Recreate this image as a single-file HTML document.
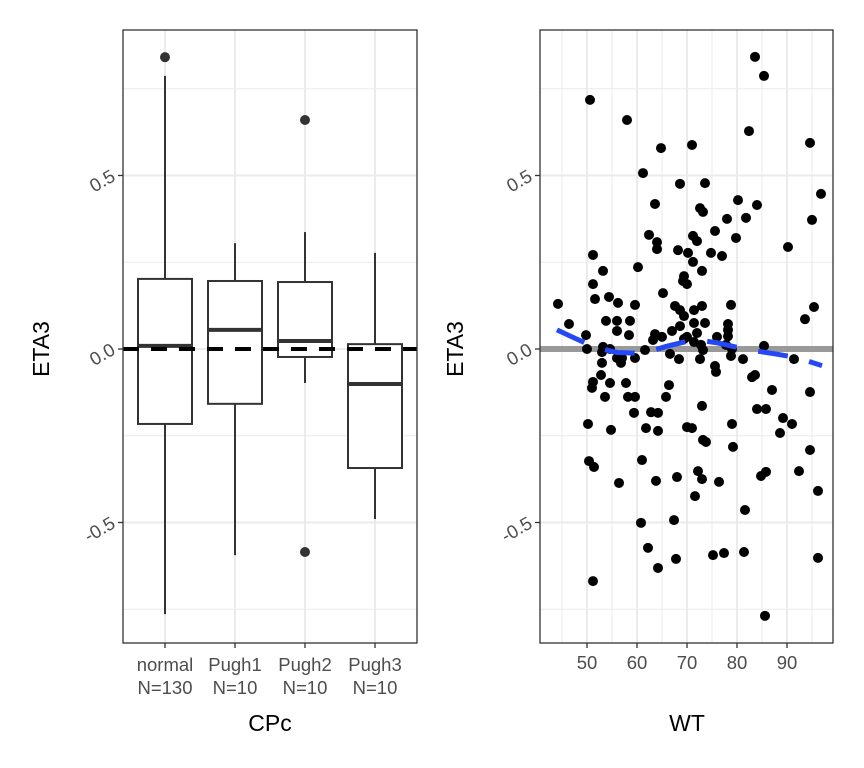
<!DOCTYPE html>
<html><head><meta charset="utf-8">
<style>
html,body{margin:0;padding:0;background:#fff;}
svg{display:block;font-family:"Liberation Sans",sans-serif;}
</style></head>
<body>
<svg id="chart" width="864" height="768" viewBox="0 0 864 768"></svg>
<script>
// ---- Left panel data (box plot) ----
const categories = ["normal","Pugh1","Pugh2","Pugh3"];
const catCounts = ["N=130","N=10","N=10","N=10"];
const boxLower = [-0.764,-0.594,-0.098,-0.490];
const boxQ1 = [-0.216,-0.158,-0.023,-0.343];
const boxMedian = [0.009,0.055,0.023,-0.101];
const boxQ3 = [0.202,0.196,0.193,0.014];
const boxUpper = [0.787,0.305,0.337,0.277];
const outlierCat = [0,2,2];
const outlierVal = [0.841,0.660,-0.585];
const yTicks = [-0.5,0,0.5];
const yTickLabels = ["-0.5","0.0","0.5"];
const yMinor = [-0.75,-0.25,0.25,0.75];
// ---- Right panel data (scatter) ----
const wt = [83.6,85.4,50.6,58.0,82.4,94.6,64.8,71.0,61.2,68.6,73.6,96.8,63.6,80.2,84.0,72.6,73.2,78.0,81.8,95.0,75.6,79.8,62.4,64.0,71.2,72.0,64.0,68.2,70.2,74.8,77.0,90.2,51.2,53.2,60.2,71.2,73.0,51.2,51.6,54.4,56.2,65.2,69.4,69.2,70.0,73.0,78.8,44.2,46.4,59.6,53.8,58.6,67.6,68.6,69.4,71.4,71.4,73.6,78.2,78.2,93.6,95.4,56.0,56.0,49.8,58.4,63.6,65.0,67.0,68.6,69.4,72.0,78.2,50.0,54.6,61.6,63.2,70.0,71.4,77.8,53.2,76.0,85.4,72.8,73.2,53.0,56.0,57.0,59.6,66.6,68.4,72.6,79.0,78.8,81.2,91.4,53.0,56.8,52.8,51.2,54.6,57.8,51.0,53.6,58.2,59.6,66.4,65.8,75.6,75.8,83.6,83.0,87.0,94.6,73.0,84.0,85.8,59.4,62.8,64.2,71.0,79.0,50.2,54.8,61.8,64.2,70.0,73.2,73.8,79.2,89.2,91.0,88.6,94.6,50.4,51.4,61.0,56.4,63.8,68.0,72.2,73.0,76.4,84.8,85.8,92.4,96.2,71.6,81.6,60.8,67.4,62.2,67.8,64.2,75.2,77.4,81.4,96.2,51.2,85.6];
const eta3 = [0.842,0.787,0.718,0.660,0.628,0.594,0.579,0.588,0.507,0.476,0.478,0.447,0.418,0.429,0.415,0.406,0.395,0.375,0.378,0.372,0.340,0.320,0.329,0.308,0.326,0.311,0.288,0.285,0.277,0.277,0.268,0.294,0.271,0.225,0.236,0.251,0.225,0.187,0.144,0.150,0.133,0.161,0.210,0.196,0.187,0.124,0.127,0.130,0.072,0.127,0.081,0.081,0.124,0.112,0.095,0.112,0.075,0.075,0.072,0.037,0.086,0.121,0.081,0.052,0.040,0.040,0.043,0.035,0.052,0.066,0.029,0.046,0.055,0.000,0.000,-0.003,0.026,0.035,0.020,0.012,0.006,0.035,0.009,0.012,-0.003,-0.009,-0.026,-0.026,-0.026,-0.014,-0.029,-0.029,0.000,-0.020,-0.029,-0.029,-0.040,-0.040,-0.075,-0.095,-0.098,-0.098,-0.112,-0.138,-0.138,-0.138,-0.104,-0.138,-0.049,-0.066,-0.075,-0.081,-0.118,-0.124,-0.164,-0.173,-0.173,-0.184,-0.182,-0.184,-0.228,-0.216,-0.216,-0.233,-0.228,-0.236,-0.225,-0.262,-0.268,-0.282,-0.199,-0.216,-0.242,-0.291,-0.323,-0.340,-0.320,-0.386,-0.380,-0.369,-0.352,-0.375,-0.383,-0.366,-0.354,-0.352,-0.409,-0.424,-0.464,-0.501,-0.493,-0.573,-0.605,-0.631,-0.594,-0.588,-0.585,-0.602,-0.669,-0.769];
const smoothX = [44,47,50,53,56,60,63,66,70,73,76,80,84,88,92,97];
const smoothY = [0.055,0.035,0.015,0.000,-0.010,-0.012,-0.005,0.008,0.022,0.024,0.018,0.005,-0.006,-0.015,-0.025,-0.048];
const xTicks = [50,60,70,80,90];
const xMinor = [45,55,65,75,85,95];

const NS="http://www.w3.org/2000/svg";
const svg=document.getElementById('chart');
function mk(tag,attrs,parent){const e=document.createElementNS(NS,tag);for(const k in attrs)e.setAttribute(k,attrs[k]);(parent||svg).appendChild(e);return e;}
const y=v=>349-v*347;
const L={x0:123,x1:417,y0:30,y1:643};
const R={x0:540,x1:833,y0:30,y1:643};
const xc=i=>165+i*70;
const xw=v=>587+(v-50)*5;

function panelGrid(P,name){
  const g=mk('g',{});
  
  
  yMinor.forEach(v=>mk('line',{x1:P.x0,x2:P.x1,y1:y(v),y2:y(v),stroke:'#ebebeb','stroke-width':1},g));
  yTicks.forEach(v=>mk('line',{x1:P.x0,x2:P.x1,y1:y(v),y2:y(v),stroke:'#ebebeb','stroke-width':2},g));
  return g;
}
// ---- Left panel ----
const gl=panelGrid(L,'left');
categories.forEach((c,i)=>mk('line',{x1:xc(i),x2:xc(i),y1:L.y0,y2:L.y1,stroke:'#ebebeb','stroke-width':2},gl));
categories.forEach((c,i)=>{
  const g=mk('g',{});
  
  
  const cx=xc(i),w=27;
  mk('line',{x1:cx,x2:cx,y1:y(boxUpper[i]),y2:y(boxQ3[i]),stroke:'#333','stroke-width':2},g);
  mk('line',{x1:cx,x2:cx,y1:y(boxQ1[i]),y2:y(boxLower[i]),stroke:'#333','stroke-width':2},g);
  mk('rect',{x:cx-w,y:y(boxQ3[i]),width:2*w,height:y(boxQ1[i])-y(boxQ3[i]),fill:'#fff',stroke:'#333','stroke-width':2},g);
  mk('line',{x1:cx-w,x2:cx+w,y1:y(boxMedian[i]),y2:y(boxMedian[i]),stroke:'#333','stroke-width':4},g);
});
outlierVal.forEach((v,k)=>{
  const c=mk('circle',{cx:xc(outlierCat[k]),cy:y(v),r:5,fill:'#333'});
  
  
});
const ref=mk('line',{x1:L.x0,x2:L.x1,y1:y(0),y2:y(0),stroke:'#000','stroke-width':4,'stroke-dasharray':'16 12'});


const lb=mk('rect',{x:L.x0,y:L.y0,width:L.x1-L.x0,height:L.y1-L.y0,fill:'none',stroke:'#333','stroke-width':1.3});



// ---- Right panel ----
const gr=panelGrid(R,'right');
xMinor.forEach(v=>mk('line',{x1:xw(v),x2:xw(v),y1:R.y0,y2:R.y1,stroke:'#ebebeb','stroke-width':1},gr));
xTicks.forEach(v=>mk('line',{x1:xw(v),x2:xw(v),y1:R.y0,y2:R.y1,stroke:'#ebebeb','stroke-width':2},gr));
const gz=mk('line',{x1:R.x0,x2:R.x1,y1:y(0),y2:y(0),stroke:'#999','stroke-width':6});


wt.forEach((v,i)=>{
  const c=mk('circle',{cx:xw(v),cy:y(eta3[i]),r:5,fill:'#000'});
  
  
});
const sm=mk('path',{d:smoothX.map((v,i)=>(i?'L':'M')+xw(v)+' '+y(smoothY[i])).join(' '),fill:'none',stroke:'#2448f5','stroke-width':5,'stroke-dasharray':'30 22'});


const rb=mk('rect',{x:R.x0,y:R.y0,width:R.x1-R.x0,height:R.y1-R.y0,fill:'none',stroke:'#333','stroke-width':1.3});



// ---- Axes ----
[L,R].forEach((P,pi)=>{
  yTicks.forEach((v,i)=>{
    mk('line',{x1:P.x0-5,x2:P.x0,y1:y(v),y2:y(v),stroke:'#333','stroke-width':1.3});
    const t=mk('text',{x:P.x0-9,y:y(v)+5,'text-anchor':'end','font-size':18.5,fill:'#4d4d4d',transform:`rotate(-30 ${P.x0-9} ${y(v)})`});
    t.textContent=yTickLabels[i];
    
    
  });
  const ty=mk('text',{x:0,y:0,'text-anchor':'middle','font-size':23,fill:'#000',transform:`translate(${pi?463:49} ${y(0)}) rotate(-90)`});
  ty.textContent='ETA3';
  
  
});
categories.forEach((c,i)=>{
  mk('line',{x1:xc(i),x2:xc(i),y1:L.y1,y2:L.y1+5,stroke:'#333','stroke-width':1.3});
  const t=mk('text',{x:xc(i),y:671,'text-anchor':'middle','font-size':18.5,fill:'#4d4d4d'});
  t.textContent=c;
  
  
  const t2=mk('text',{x:xc(i),y:694,'text-anchor':'middle','font-size':18.5,fill:'#4d4d4d'});
  t2.textContent=catCounts[i];
  
  
});
xTicks.forEach(v=>{
  mk('line',{x1:xw(v),x2:xw(v),y1:R.y1,y2:R.y1+5,stroke:'#333','stroke-width':1.3});
  const t=mk('text',{x:xw(v),y:669,'text-anchor':'middle','font-size':18.5,fill:'#4d4d4d'});
  t.textContent=String(v);
  
  
});
const xt1=mk('text',{x:270,y:731,'text-anchor':'middle','font-size':23,fill:'#000'});
xt1.textContent='CPc';


const xt2=mk('text',{x:687,y:731,'text-anchor':'middle','font-size':23,fill:'#000'});
xt2.textContent='WT';


</script>
</body></html>
